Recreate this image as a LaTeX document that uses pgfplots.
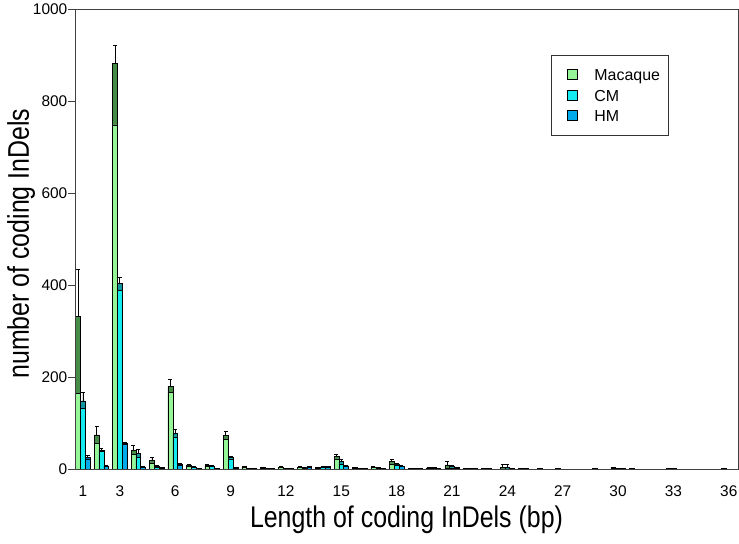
\documentclass[border=0pt]{standalone}
\usepackage{fontspec}
\setmainfont{Liberation Sans}
\usepackage{graphicx}
\usepackage{pgfplots}
\usepackage{pgfplotstable}
\pgfplotsset{compat=1.18}

\definecolor{maclight}{RGB}{150,245,150}
\definecolor{macdark}{RGB}{70,140,70}
\definecolor{cmlight}{RGB}{20,235,240}
\definecolor{cmdark}{RGB}{20,150,160}
\definecolor{hmlight}{RGB}{0,170,235}
\definecolor{hmdark}{RGB}{0,110,170}

% len, value, error plus, error minus for each species
\pgfplotstableread{
len mac macp macm cm cmp cmm hm hmp hmm
1 331 102 166 148 19 17 25 5 4
2 74 18 18 41 3 3 7 1 1
3 881 39 133 404 13 15 56 2 2
4 41 10 10 34 9 9 4 1 1
5 19 6 6 6 2 2 3 1 1
6 180 14 14 78 8 8 10 2 2
7 9 2 2 4 1 1 2 0 0
8 8 2 2 7 1 1 2 0 0
9 73 9 9 25 3 3 3 1 1
10 5 1 1 1 0 0 1 0 0
11 3 1 1 1 0 0 1 0 0
12 4 1 1 2 0 0 2 0 0
13 4 1 1 3 1 1 5 1 1
14 3 1 1 4 1 1 5 1 1
15 27 5 5 16 5 5 7 1 1
16 3 1 1 1 0 0 1 0 0
17 4 1 1 3 1 1 1 0 0
18 16 5 5 11 2 2 6 1 1
19 1 0 0 1 0 0 1 0 0
20 2 1 1 3 1 1 1 0 0
21 9 7 7 5 4 4 3 1 1
22 2 0 0 1 0 0 1 0 0
23 2 0 0 1 0 0 0 0 0
24 3 8 3 3 7 3 1 0 0
25 1 0 0 1 0 0 0 0 0
26 1 0 0 0 0 0 0 0 0
27 1 0 0 0 0 0 0 0 0
28 0 0 0 0 0 0 0 0 0
29 1 0 0 0 0 0 0 0 0
30 3 1 1 2 0 0 1 0 0
31 1 0 0 0 0 0 0 0 0
32 0 0 0 0 0 0 0 0 0
33 1 0 0 1 0 0 0 0 0
34 0 0 0 0 0 0 0 0 0
35 0 0 0 0 0 0 0 0 0
36 1 0 0 0 0 0 0 0 0
}\indels

\begin{document}
\begin{tikzpicture}
\path[use as bounding box] (-75bp,-75bp) rectangle (664bp,469bp);
\begin{axis}[
    at={(0,0)}, anchor=south west,
    scale only axis,
    width=663bp, height=460bp,
    ybar, bar width=4.8bp,
    xmin=0.57, xmax=36.5,
    ymin=0, ymax=1000,
    xtick={1,3,6,9,12,15,18,21,24,27,30,33,36},
    ytick={0,200,400,600,800,1000},
    ytick pos=left, xtick pos=bottom,
    tick align=outside,
    major tick length=7bp,
    xtick style={draw=none},
    ytick style={black!75, line width=0.8bp},
    axis line style={black!75, line width=0.8bp},
    /pgf/number format/assume math mode=true,
    /pgf/number format/1000 sep={},
    ticklabel style={font=\fontsize{15.5}{18}\selectfont},
    yticklabel style={inner xsep=0.5bp},
    xticklabel style={yshift=-6bp},
    xlabel={\scalebox{1}[1.2]{Length of coding InDels (bp)}},
    ylabel={\scalebox{1}[1.2]{number of coding InDels}},
    label style={font=\fontsize{25}{30}\selectfont},
    xlabel style={at={(axis description cs:0.5,-0.111)}, anchor=center},
    ylabel style={at={(axis description cs:-0.0814,0.49)}, anchor=center},
    legend style={at={(axis description cs:0.718,0.9)}, anchor=north west,
        draw=black!80, line width=0.8bp,
        font=\fontsize{16}{19}\selectfont,
        inner xsep=0bp, inner ysep=11.5bp, row sep=4.5bp,
        cells={anchor=west},
        nodes={inner xsep=0bp, inner ysep=0bp, text height=14bp, text depth=2bp}},
    legend image code/.code={%
        \path[draw=none, fill=none] (0bp,0bp) -- (43bp,0bp);
        \draw[#1, line width=0.8bp] (16bp,-5bp) rectangle (26bp,5bp);},
    error bars/error bar style={black, line width=0.7bp},
    error bars/error mark options={black, rotate=90, mark size=2bp, line width=0.7bp},
    axis on top,
]
% Macaque
\addplot[fill=macdark, draw=black, line width=0.5bp, bar shift=-4.8bp, forget plot,
    error bars/.cd, y dir=plus, y explicit]
    table[x=len, y=mac, y error plus=macp] {\indels};
\addplot[fill=maclight, draw=black, line width=0.5bp, bar shift=-4.8bp]
    table[x=len, y expr=\thisrow{mac}-\thisrow{macm}] {\indels};
\addlegendentry{Macaque\hspace*{8bp}}
% CM
\addplot[fill=cmdark, draw=black, line width=0.5bp, bar shift=0bp, forget plot,
    error bars/.cd, y dir=plus, y explicit]
    table[x=len, y=cm, y error plus=cmp] {\indels};
\addplot[fill=cmlight, draw=black, line width=0.5bp, bar shift=0bp]
    table[x=len, y expr=\thisrow{cm}-\thisrow{cmm}] {\indels};
\addlegendentry{CM}
% HM
\addplot[fill=hmdark, draw=black, line width=0.5bp, bar shift=4.8bp, forget plot,
    error bars/.cd, y dir=plus, y explicit]
    table[x=len, y=hm, y error plus=hmp] {\indels};
\addplot[fill=hmlight, draw=black, line width=0.5bp, bar shift=4.8bp]
    table[x=len, y expr=\thisrow{hm}-\thisrow{hmm}] {\indels};
\addlegendentry{HM}
\end{axis}
\end{tikzpicture}
\end{document}
